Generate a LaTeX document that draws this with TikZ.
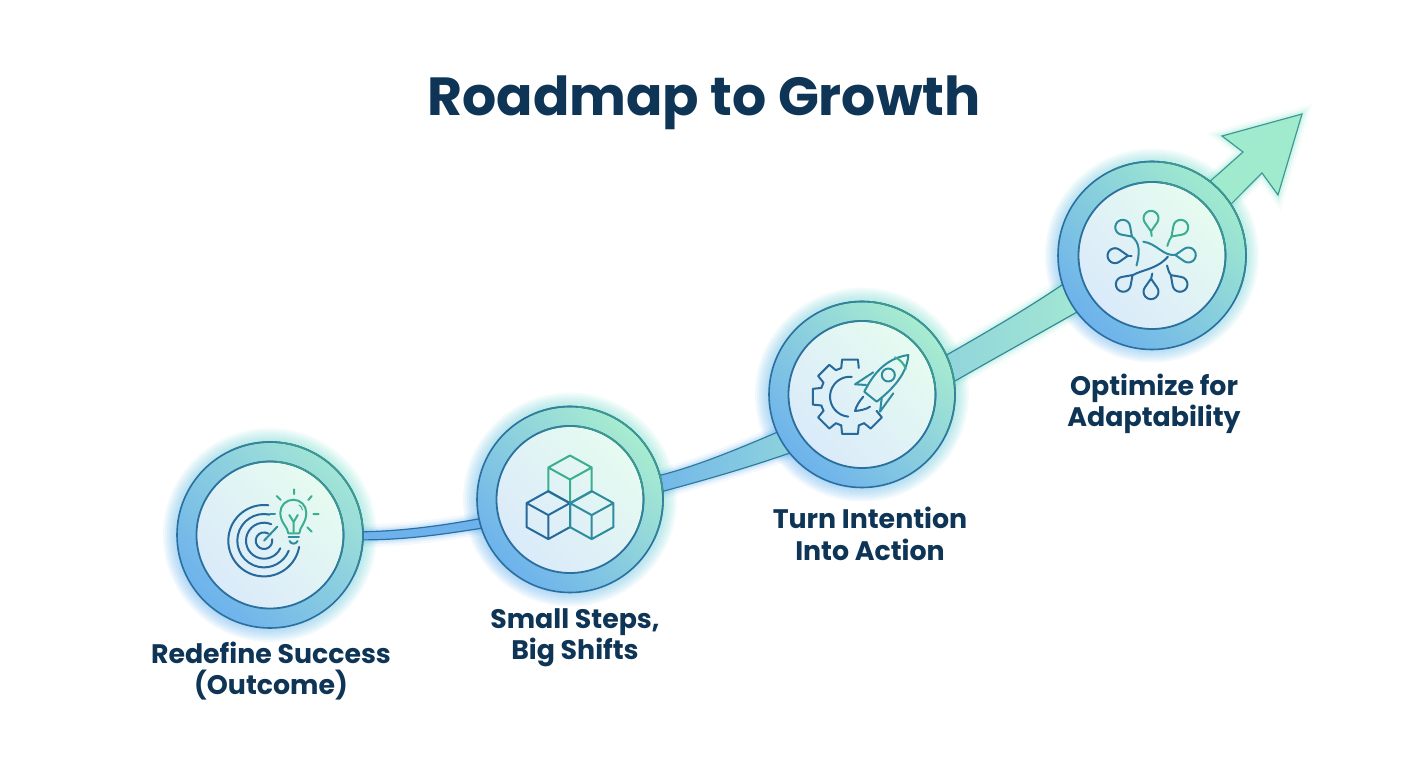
\documentclass[tikz,border=0pt]{standalone}
\usepackage{fontspec}
\setmainfont{Poppins}
\usetikzlibrary{backgrounds}
\definecolor{ink}{HTML}{0E3556}
\definecolor{ringblue}{HTML}{6DB2EC}
\definecolor{ringmid}{HTML}{93D2E4}
\definecolor{ringgreen}{HTML}{A8ECD0}
\definecolor{edgeblue}{HTML}{2A6F9E}
\definecolor{edgegreen}{HTML}{3C9A90}
\definecolor{discblue}{HTML}{DAEAFA}
\definecolor{discmid}{HTML}{EBF6FB}
\definecolor{discgreen}{HTML}{E6FBF0}
\definecolor{glowblue}{HTML}{3F9CEC}
\definecolor{glowgreen}{HTML}{5CD8C0}
\definecolor{iconblue}{HTML}{27699A}
\definecolor{iconteal}{HTML}{2E8C9E}
\definecolor{icongreen}{HTML}{3CAE90}
\tikzset{
  ring/.style={circle,draw=edgeblue,line width=1.6pt,minimum size=186pt,inner sep=0pt,outer sep=0pt,
    top color=ringgreen,middle color=ringmid,bottom color=ringblue,shading angle=-45},
  disc/.style={circle,draw=edgeblue,line width=1.8pt,minimum size=147pt,inner sep=0pt,outer sep=0pt,
    top color=discgreen,middle color=discmid,bottom color=discblue,shading angle=-45},
  glow/.style={top color=glowgreen,bottom color=glowblue,shading angle=-45,opacity=.07},
  ribbon/.style={line width=1.2pt,
    preaction={draw=#1,line width=14pt,opacity=.06},
    preaction={draw=#1,line width=9pt,opacity=.1},
    preaction={draw=#1,line width=5pt,opacity=.14}},
  icon/.style={line width=2pt,line cap=round,line join=round,draw=#1},
  heading/.style={text=ink,font=\bfseries\fontsize{53.7}{56}\selectfont},
  steptext/.style={text=ink,align=center,font=\bfseries\fontsize{26.8}{31.5}\selectfont},
}
\begin{document}
\begin{tikzpicture}[x=1pt,y=-1pt]
  \useasboundingbox (0,0) rectangle (1408,768);
  \node[heading] (title) at (704,103) {Roadmap to Growth};

  \node[ring,top color=ringgreen!70!ringmid,middle color=ringmid,bottom color=ringblue,shading angle=-45] (ringone) at (270,535) {};
  \node[ring] (ringtwo) at (570,499.5) {};
  \node[ring] (ringthree) at (862,394.5) {};
  \node[ring,minimum size=188pt,top color=ringgreen!90!glowgreen,middle color=ringmid!55!ringgreen,bottom color=ringblue,shading angle=-45] (ringfour) at (1152,255.5) {};
  \node[disc] (discone) at (ringone) {};
  \node[disc] (disctwo) at (ringtwo) {};
  \node[disc] (discthree) at (ringthree) {};
  \node[disc] (discfour) at (ringfour) {};
  \coordinate (tip) at (1302,114);

  \foreach \ring/\R in {ringone/93,ringtwo/93,ringthree/93,ringfour/94,discone/73.5,disctwo/73.5,discthree/73.5,discfour/73.5} {
    \draw[edgeblue!55!edgegreen,line width=1.6pt] (\ring.115) arc[start angle=-115,end angle=25,radius=\R];
    \draw[edgegreen,line width=1.6pt] (\ring.85) arc[start angle=-85,end angle=-5,radius=\R];
  }

  \begin{pgfonlayer}{background}
    \foreach \ring in {ringone,ringtwo,ringthree,ringfour}
      \foreach \r in {95,97,...,107}
        \shade[glow] (\ring.center) circle (\r pt);
    \shade[ribbon=glowblue,draw=edgeblue,left color=ringblue,right color=ringblue]
      (ringone.2) .. controls (405,531) and (445,525) .. (ringtwo.192)
      -- (ringtwo.198) .. controls (445,534) and (405,540) .. (ringone.-3.5) -- cycle;
    \shade[ribbon=glowblue,draw=edgeblue!70!edgegreen,left color=ringblue!90!ringgreen,right color=ringblue!45!ringgreen]
      (ringtwo.15) .. controls (700,465) and (740,448) .. (ringthree.204)
      -- (ringthree.219) .. controls (750,467) and (705,480) .. (ringtwo.5) -- cycle;
    \shade[ribbon=glowgreen,draw=edgegreen!60!edgeblue,left color=ringblue!40!ringgreen,right color=ringgreen!90!ringblue]
      (ringthree.25) .. controls (985,333) and (1025,310) .. (ringfour.198.5)
      -- (ringfour.217.4) .. controls (1035,336) and (995,358) .. (ringthree.8.4) -- cycle;
    \fill[ribbon=glowgreen,draw=edgegreen,fill=ringgreen!90!glowgreen,line join=miter]
      (ringfour.52) -- (1243,152) -- (1222,136) -- (tip) -- (1278,195) -- (1262,173) -- (ringfour.33.4) -- cycle;
  \end{pgfonlayer}

  % target and bulb
  \begin{scope}[shift={(ringone.center)}]
    \draw[icon=iconblue] (-6,5.7) ++(-83:35.7) arc[start angle=-83,end angle=-350,radius=35.7];
    \draw[icon=iconblue] (-6,5.7) ++(-78:26.7) arc[start angle=-78,end angle=-338,radius=26.7];
    \draw[icon=iconblue] (-6,5.7) ++(-66:18) arc[start angle=-66,end angle=-335,radius=18];
    \draw[icon=iconblue] (-6,5.7) ++(-60:8.3) arc[start angle=-60,end angle=-370,radius=8.3];
    \draw[icon=iconteal] (-6,5.7) -- (7.3,-8.3);
    \draw[icon=iconteal] (0,-20.7) -- (5,-20.7);
    \draw[icon=icongreen] (18.3,-1.7) .. controls (18,-8) and (10.3,-12) .. (10.3,-22.3)
      arc[start angle=180,end angle=360,radius=13]
      .. controls (36.3,-12) and (29.6,-8) .. (29.3,-1.7) -- cycle;
    \draw[icon=iconteal] (18.6,2.2) -- (29,2.2);
    \draw[icon=iconteal] (19.6,6) .. controls (21,9.5) and (26,9.5) .. (27.6,6);
    \draw[icon=icongreen] (23.6,-3) -- (23.6,-13) (19.3,-20) -- (23.6,-13) -- (27.8,-20);
    \draw[icon=icongreen,line width=1pt] (29,-30) .. controls (31,-29) and (32,-27) .. (32.5,-25);
    \draw[icon=icongreen] (24,-45.7) -- (24,-41) (6.7,-39) -- (10.7,-35) (41.7,-39) -- (38.3,-35)
      (43.3,-21) -- (48.7,-21) (37.3,-7.7) -- (41.7,-3.3);
  \end{scope}

  % cubes
  \begin{scope}[shift={(ringtwo.center)}]
    \foreach \cx/\cy/\col in {0/-20/icongreen,-21.7/15.6/iconblue,21.7/15.6/iconteal}
      \draw[icon=\col,shift={(\cx,\cy)}] (0,-24) -- (21.7,-12) -- (21.7,12) -- (0,24) -- (-21.7,12) -- (-21.7,-12) -- cycle
        (-21.7,-12) -- (0,0) -- (21.7,-12) (0,0) -- (0,24);
  \end{scope}

  % gear and rocket
  \begin{scope}[shift={(ringthree.center)}]
    \foreach \a/\b in {-90/11,-135/11,-180/11,-225/11,-270/11,-315/0}
      \draw[icon=iconblue] ([shift={(\a+17:30)}]-12,2.2) -- ([shift={(\a+12:38)}]-12,2.2)
        -- ([shift={(\a-12:38)}]-12,2.2) -- ([shift={(\a-17:30)}]-12,2.2)
        arc[start angle=\a-17,end angle=\a-17-\b,radius=30];
    \draw[icon=iconblue] (-12,2.2) ++(-85:20) arc[start angle=-85,end angle=-265,radius=20];
    \draw[icon=iconteal] (2.3,-2.8) .. controls (10,-18) and (22,-36) .. (46.3,-39.5)
      .. controls (45,-20) and (30,-5) .. (14.7,7.2) -- cycle;
    \draw[icon=icongreen] (33,-37.2) .. controls (38,-35) and (42,-31) .. (43.7,-25.5);
    \draw[icon=iconteal] (26.3,-19.5) circle (6.5pt);
    \draw[icon=iconteal] (11.3,-22.2) -- (-7,-10.2) -- (4,-9.5);
    \draw[icon=iconteal] (31.3,-1.2) -- (18,17.2) -- (19.7,3.8);
    \draw[icon=iconblue] (1.3,2.2) .. controls (-3,7) and (-6,12) .. (-7,16.5) .. controls (-2,16) and (4,15) .. (8,12.2);
  \end{scope}

  % branching drops
  \begin{scope}[shift={(ringfour.center)}]
    \foreach \cx/\cy/\ang/\col in {-1/-37.2/-90/icongreen,28.7/-28.2/225/icongreen,36.3/-0.5/180/iconteal,-29.3/-28.2/-45/iconteal,
        -37/0.2/0/iconblue,-28.7/28.8/45/iconblue,-1/36.2/90/iconblue,28/28.8/135/iconblue}
      \draw[icon=\col,shift={(\cx,\cy)},rotate=\ang] (13,0) -- (50:7.5) arc[start angle=50,end angle=310,radius=7.5] -- cycle;
    \draw[icon=icongreen] (-1,-24.7) -- (-0.3,-19.5);
    \draw[icon=icongreen] (19.9,-19.4) .. controls (17.5,-16) .. (15.3,-9.5);
    \draw[icon=iconteal] (-8.7,-13.8) .. controls (5,-12) and (11,1) .. (23.8,-0.5);
    \draw[icon=iconteal] (-20.5,-19.4) .. controls (-12,-13) and (-12,-3) .. (-15.5,10);
    \draw[icon=iconblue] (-24.5,0.2) -- (-20.3,0.2);
    \draw[icon=iconblue] (-19.9,20) .. controls (-10,14) and (5,14) .. (16,1);
    \draw[icon=iconblue] (-1,23.7) -- (0.3,18);
    \draw[icon=iconblue] (19.2,20) .. controls (17,17) .. (15,10);
  \end{scope}

  \node[steptext] (labelone) at (271,671) {Redefine Success\\(Outcome)};
  \node[steptext] (labeltwo) at (575,638) {Small Steps,\\Big Shifts};
  \node[steptext] (labelthree) at (870,534) {Turn Intention\\Into Action};
  \node[steptext] (labelfour) at (1154,404) {Optimize for\\Adaptability};
\end{tikzpicture}
\end{document}
